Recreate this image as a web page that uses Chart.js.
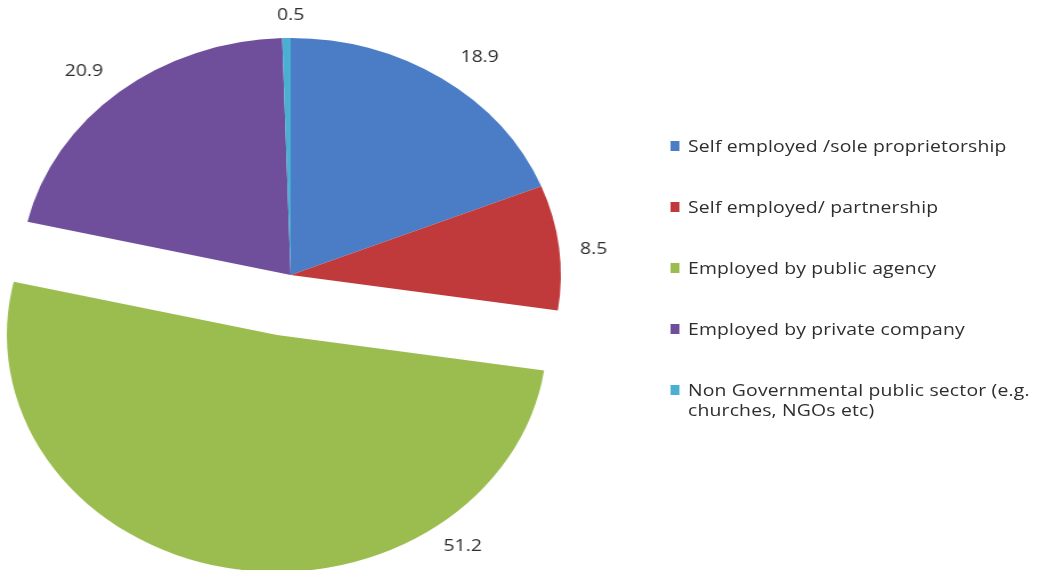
<!DOCTYPE html>
<html>
<head>
<meta charset="utf-8">
<script src="https://cdn.jsdelivr.net/npm/chart.js@4.4.1/dist/chart.umd.min.js"></script>
<style>
html, body { margin: 0; padding: 0; background: #ffffff; }
#wrap { position: absolute; left: 0; top: 0; width: 913px; height: 570px; transform: scaleX(1.14); transform-origin: 0 0; }
.layer { position: absolute; left: 0; top: 0; width: 913px; height: 570px; }
#legend { position: absolute; left: 588px; top: 136px; font: 17px "Open Sans", "Liberation Sans", Arial, sans-serif; letter-spacing: 0.15px; color: #2e2e2e; }
.item { position: relative; padding-left: 15.5px; line-height: 20px; margin-bottom: 41px; white-space: nowrap; }
.item .box { position: absolute; left: 0; top: 5px; width: 8px; height: 10px; }
</style>
</head>
<body>
<div id="wrap">
  <div class="layer"><canvas id="mainPie"></canvas></div>
  <div class="layer"><canvas id="explodedPie"></canvas></div>
  <div id="legend"></div>
</div>
<script>
// ---- data ----
const categories = [
  "Self employed /sole proprietorship",
  "Self employed/ partnership",
  "Employed by public agency",
  "Employed by private company",
  "Non Governmental public sector (e.g. churches, NGOs etc)"
];
const legendLines = [
  ["Self employed /sole proprietorship"],
  ["Self employed/ partnership"],
  ["Employed by public agency"],
  ["Employed by private company"],
  ["Non Governmental public sector (e.g.", "churches, NGOs etc)"]
];
const values = [18.9, 8.5, 51.2, 20.9, 0.5];
const valueLabels = ["18.9", "8.5", "51.2", "20.9", "0.5"];
const colors = ["#4a7dc6", "#c0393b", "#9bbd50", "#6f4f9c", "#4bafd4"];
const explodedIndex = 2;

// ---- label placement (style) ----
const labelGap = [37, 30, 30, 36, 23];
const labelAngleShift = [3.2, 1.1, -48.4, -2.2, 0.9];

const sliceLabels = {
  id: 'sliceLabels',
  afterDatasetsDraw(chart, args, opts) {
    const ctx = chart.ctx;
    const meta = chart.getDatasetMeta(0);
    ctx.save();
    ctx.font = '17px "Open Sans", "Liberation Sans", Arial, sans-serif';
    ctx.fillStyle = '#2e2e2e';
    ctx.textAlign = 'center';
    ctx.textBaseline = 'middle';
    meta.data.forEach((arc, i) => {
      if (!opts.show.includes(i)) return;
      const p = arc.getProps(['x', 'y', 'startAngle', 'endAngle', 'outerRadius'], true);
      const a = (p.startAngle + p.endAngle) / 2 + labelAngleShift[i] * Math.PI / 180;
      const r = p.outerRadius + labelGap[i];
      ctx.fillText(valueLabels[i], p.x + r * Math.cos(a), p.y + r * Math.sin(a));
    });
    ctx.restore();
  }
};

function makePie(canvasId, showIdx, padding) {
  const bg = colors.map((c, i) => showIdx.includes(i) ? c : 'rgba(0,0,0,0)');
  return new Chart(document.getElementById(canvasId), {
    type: 'pie',
    data: {
      labels: categories,
      datasets: [{ data: values, backgroundColor: bg, borderWidth: 0 }]
    },
    options: {
      responsive: true,
      maintainAspectRatio: false,
      animation: false,
      events: [],
      radius: 237,
      layout: { padding: padding },
      plugins: {
        legend: { display: false },
        tooltip: { enabled: false },
        sliceLabels: { show: showIdx }
      }
    },
    plugins: [sliceLabels]
  });
}

const others = values.map((v, i) => i).filter(i => i !== explodedIndex);
makePie('mainPie', others, { left: 0, right: 403, top: 0, bottom: 20 });
makePie('explodedPie', [explodedIndex], { left: 0, right: 427, top: 100, bottom: 0 });

// ---- legend ----
const legend = document.getElementById('legend');
legendLines.forEach((lines, i) => {
  const item = document.createElement('div');
  item.className = 'item';
  const box = document.createElement('span');
  box.className = 'box';
  box.style.background = colors[i];
  item.appendChild(box);
  lines.forEach((t, k) => {
    if (k > 0) item.appendChild(document.createElement('br'));
    item.appendChild(document.createTextNode(t));
  });
  legend.appendChild(item);
});
</script>
</body>
</html>
